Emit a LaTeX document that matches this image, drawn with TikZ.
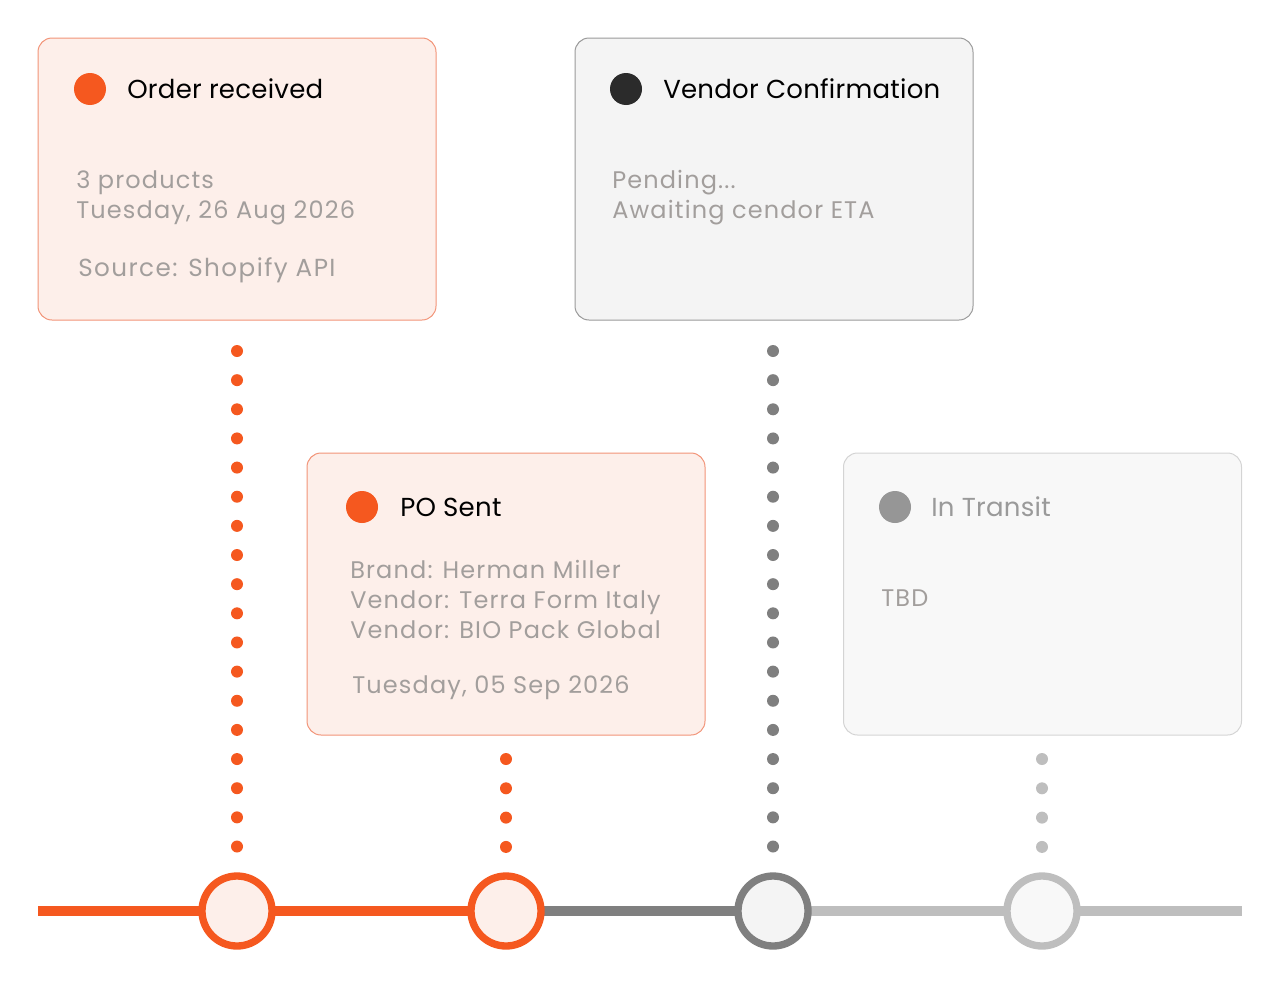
\documentclass[tikz,border=0pt]{standalone}
\usepackage{fontspec}
\setmainfont{Poppins}
\newfontfamily\bodyfont[LetterSpace=4.8]{Poppins}
\newfontfamily\srcfont[LetterSpace=5.8]{Poppins}
\newfontfamily\ttlfont[LetterSpace=1.0]{Poppins}
\usetikzlibrary{backgrounds}
\definecolor{orng}{HTML}{F5581F}
\definecolor{orngfill}{HTML}{FDEFEA}
\definecolor{orngborder}{HTML}{F29478}
\definecolor{grayfill}{HTML}{F4F4F4}
\definecolor{grayborder}{HTML}{9A9A9A}
\definecolor{lightfill}{HTML}{F8F8F8}
\definecolor{lightborder}{HTML}{D4D4D4}
\definecolor{darkdot}{HTML}{2B2B2B}
\definecolor{midgray}{HTML}{7F7F7F}
\definecolor{lightgray}{HTML}{BEBEBE}
\definecolor{txtgray}{HTML}{A29E9C}
\definecolor{titlegray}{HTML}{9A9A9A}
\definecolor{dotgray}{HTML}{969696}
\begin{document}
\begin{tikzpicture}[x=0.75pt,y=-0.75pt,
  card/.style={rectangle, rounded corners=10.5pt, minimum width=298.5pt, minimum height=211.5pt, line width=0.75pt, outer sep=0pt, inner sep=0pt},
  ocard/.style={card, draw=orngborder, fill=orngfill},
  gcard/.style={card, draw=grayborder, fill=grayfill},
  lcard/.style={card, draw=lightborder, fill=lightfill},
  bullet/.style={circle, minimum size=24pt, inner sep=0pt},
  ttl/.style={anchor=base west, inner sep=0pt, font=\ttlfont\fontsize{19.5}{22}\selectfont, text=black},
  body/.style={anchor=base west, inner sep=0pt, font=\bodyfont\fontsize{18}{21}\selectfont, text=txtgray},
  srcbody/.style={body, font=\srcfont\fontsize{18.5}{21}\selectfont},
  milestone/.style={circle, minimum size=52.5pt, inner sep=0pt, outer sep=0pt, line width=5.5pt},
  dotline/.style={line width=9pt, line cap=round, shorten <=23.25pt, shorten >=21.75pt, dash pattern=on 0pt off 21.86pt},
  shortdots/.style={line width=9pt, line cap=round, shorten <=18pt, shorten >=21.75pt, dash pattern=on 0pt off 21.98pt},
  tline/.style={line width=7.5pt}
]
\useasboundingbox (0,0) rectangle (1280,992);

% cards
\node[ocard] (b1) at (237,179) {};
\node[gcard] (b2) at (774,179) {};
\node[ocard] (b3) at (506,594) {};
\node[lcard] (b4) at (1042.5,594) {};

% card 1
\node[bullet, fill=orng] (d1) at (90,89) {};
\node[ttl] (t1) at (127,98) {Order received};
\node[body] (l11) at (76,188) {3 products};
\node[body] (l12) at (76,218) {Tuesday, 26 Aug 2026};
\node[srcbody] (l13) at (78,276) {Source: Shopify API};

% card 2
\node[bullet, fill=darkdot] (d2) at (626,89) {};
\node[ttl] (t2) at (663,98) {Vendor Confirmation};
\node[body] (l21) at (612,188) {Pending...};
\node[body] (l22) at (612,218) {Awaiting cendor ETA};

% card 3
\node[bullet, fill=orng] (d3) at (362,507) {};
\node[ttl] (t3) at (400,516) {PO Sent};
\node[body] (l31) at (350,578) {Brand: Herman Miller};
\node[body] (l32) at (350,608) {Vendor: Terra Form Italy};
\node[body] (l33) at (350,638) {Vendor: BIO Pack Global};
\node[body] (l34) at (352,693) {Tuesday, 05 Sep 2026};

% card 4
\node[bullet, fill=dotgray] (d4) at (895,507) {};
\node[ttl, text=titlegray] (t4) at (931,516) {In Transit};
\node[body] (l41) at (881,606) {TBD};

% milestones
\node[milestone, draw=orng, fill=orngfill] (c1) at (237,911) {};
\node[milestone, draw=orng, fill=orngfill] (c2) at (506,911) {};
\node[milestone, draw=midgray, fill=grayfill] (c3) at (773,911) {};
\node[milestone, draw=lightgray, fill=lightfill] (c4) at (1042,911) {};

\coordinate (tstart) at (38,911);
\coordinate (tend) at (1242,911);

\begin{pgfonlayer}{background}
\draw[tline, orng] (tstart) -- (c1.center) -- (c2.center);
\draw[tline, midgray] (c2.center) -- (c3.center);
\draw[tline, lightgray] (c3.center) -- (c4.center) -- (tend);
\end{pgfonlayer}

% dotted connectors
\draw[dotline, orng] (b1.south) -- (c1.north);
\draw[shortdots, orng] (b3.south) -- (c2.north);
\draw[dotline, midgray] (b2.south -| c3) -- (c3.north);
\draw[shortdots, lightgray] (b4.south -| c4) -- (c4.north);
\end{tikzpicture}
\end{document}
